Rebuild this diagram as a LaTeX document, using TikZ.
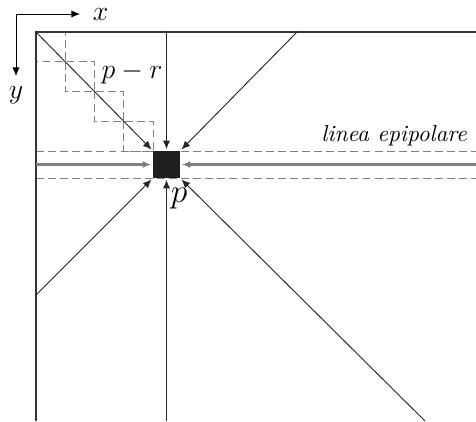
\documentclass[tikz,border=0pt]{standalone}
\usepackage{amsmath,amssymb}
\usetikzlibrary{positioning,arrows.meta,calc}

\begin{document}
\begin{tikzpicture}[x=0.43pt,y=-0.43pt,
  frameline/.style={draw=black!80,line width=0.8pt},
  ray/.style={draw=black!85,-{Latex[length=1.3mm,width=1.1mm]},shorten >=0.6pt},
  epiray/.style={draw=black!50,line width=1.1pt,-{Latex[length=1.3mm,width=1.1mm,fill=black!85]},shorten >=0.6pt},
  window/.style={draw=black!50,dash pattern=on 3.4pt off 1.8pt}]
\useasboundingbox (0,0) rectangle (476,421);
% window staircase along the diagonal
\foreach \i in {0,...,3}
  \draw[window] (36+29.25*\i,32+29.75*\i) rectangle (65.25+29.25*\i,61.75+29.75*\i);
\draw[window] (36,151) -- (476,151);
\draw[window] (36,178) -- (476,178);
% image border
\draw[frameline] (36,421) -- (36,32) -- (476,32);
% axes
\coordinate (o) at (16,14);
\draw[-{Latex[length=1.3mm,width=1.1mm]}] (o) -- (80,14) node[right=2pt,font=\large] (xl) {$x$};
\draw[-{Latex[length=1.3mm,width=1.1mm]}] (o) -- (16,76) node[below=1pt,font=\large] (yl) {$y$};
% pixel
\node[fill=black!88,minimum size=11.6pt,inner sep=0pt] (p) at (166.5,164.5) {};
\node[font=\Large] (plab) at (179,199) {$p$};
\node[font=\large] (prlab) at (132,73) {$p-r$};
\node[font=\itshape,anchor=base east] (epi) at (475,141) {linea epipolare};
% rays towards p
\coordinate (nw) at (36,32);
\coordinate (n) at (166.5,32);
\coordinate (ne) at (297,32);
\coordinate (w) at (36,164.5);
\coordinate (e) at (476,164.5);
\coordinate (sw) at (36,295);
\coordinate (s) at (166.5,421);
\coordinate (se) at (425,421);
\draw[ray] (nw) -- (p.north west);
\draw[ray] (n) -- (p.north);
\draw[ray] (ne) -- (p.north east);
\draw[epiray] (w) -- (p.west);
\draw[epiray] (e) -- (p.east);
\draw[ray] (sw) -- (p.south west);
\draw[ray] (s) -- (p.south);
\draw[ray] (se) -- (p.south east);
\end{tikzpicture}
\end{document}
